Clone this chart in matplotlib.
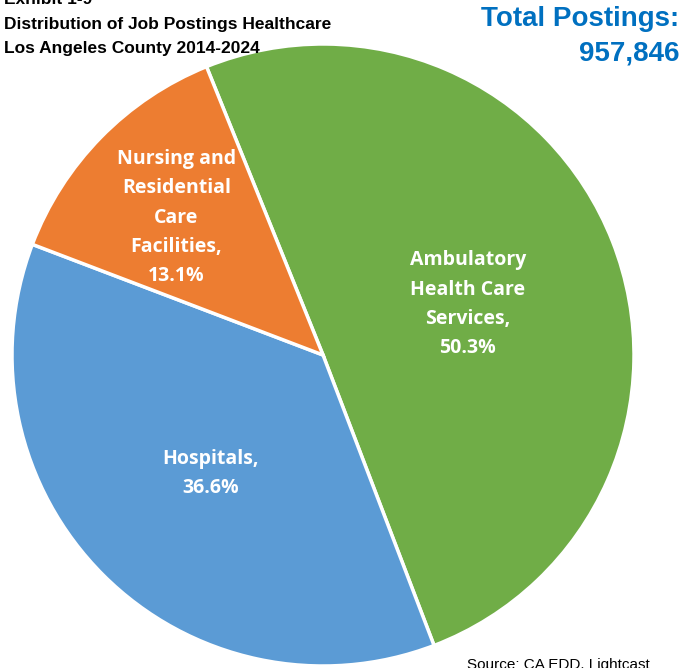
import numpy as np
import matplotlib.pyplot as plt

categories = ["Ambulatory\nHealth Care\nServices,", "Hospitals,", "Nursing and\nResidential\nCare\nFacilities,"]
shares = [50.3, 36.6, 13.1]
colors = ["#70AD47", "#5B9BD5", "#ED7D31"]
label_dist = [0.50, 0.51, 0.66]
total_postings = "957,846"

W, H = 689, 668
fig = plt.figure(figsize=(W / 100, H / 100), dpi=100)
# pie box in pixels: x 12..634, y 44..666
ax = fig.add_axes([12 / W, (H - 666) / H, 622 / W, 622 / H])

wedges, _ = ax.pie(shares, colors=colors, startangle=112, counterclock=False,
                   radius=1, wedgeprops=dict(edgecolor="white", linewidth=2.5))

for w, name, val, d in zip(wedges, categories, shares, label_dist):
    mid = np.deg2rad((w.theta1 + w.theta2) / 2)
    ax.text(d * np.cos(mid), d * np.sin(mid) - 0.02, f"{name}\n{val:.1f}%",
            ha="center", va="center", color="white", fontsize=14,
            fontweight="bold", family="Open Sans", linespacing=1.62)

ax.set_xlim(-1, 1)
ax.set_ylim(-1, 1)
ax.set_aspect("equal")
ax.axis("off")

fig.text(4 / W, 1 - 24 / H, "Exhibit 1-9\nDistribution of Job Postings Healthcare\nLos Angeles County 2014-2024",
         ha="left", va="center", fontsize=12.5, fontweight="bold", family="Liberation Sans",
         linespacing=1.75)
fig.text(679 / W, 1 - 36 / H, "Total Postings:\n" + total_postings,
         ha="right", va="center", fontsize=20, fontweight="bold", family="Liberation Sans",
         color="#0070C0", linespacing=1.45)
fig.text(467 / W, 1 - 672 / H, "Source: CA EDD, Lightcast", ha="left", va="bottom",
         fontsize=11, family="Liberation Sans")

fig.savefig("out.png", dpi=100)
